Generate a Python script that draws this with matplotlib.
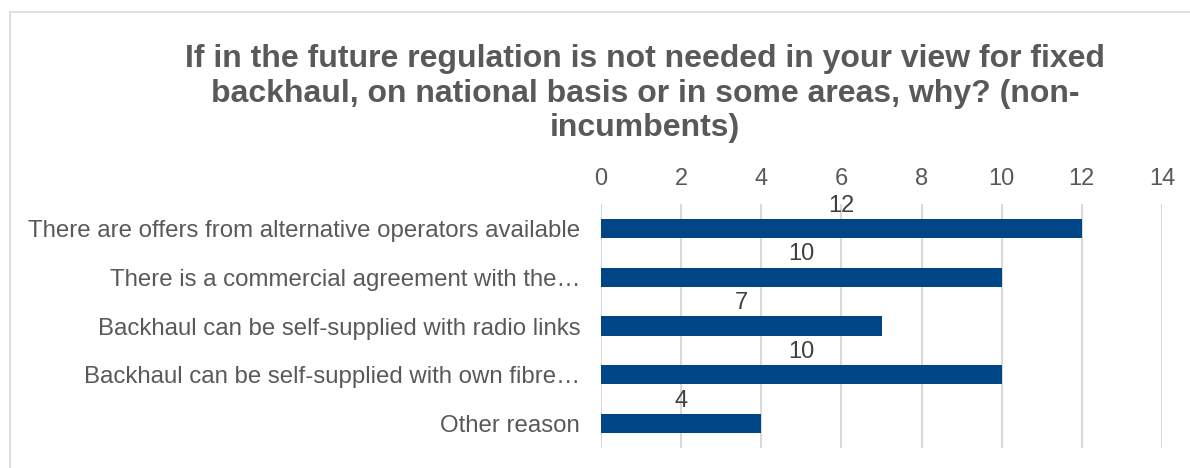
import matplotlib.pyplot as plt
from matplotlib.patches import Rectangle

reasons = [
    "There are offers from alternative operators available",
    "There is a commercial agreement with the\u2026",
    "Backhaul can be self-supplied with radio links",
    "Backhaul can be self-supplied with own fibre\u2026",
    "Other reason",
]
counts = [12, 10, 7, 10, 4]
xticks = [0, 2, 4, 6, 8, 10, 12, 14]

title = ("If in the future regulation is not needed in your view for fixed\n"
         "backhaul, on national basis or in some areas, why? (non-\n"
         "incumbents)")

plt.rcParams['font.family'] = ['Liberation Sans', 'DejaVu Sans']

W, H = 1190, 468
fig = plt.figure(figsize=(W / 100, H / 100), dpi=100)

# outer chart frame (only left/top edges fall inside the image)
top = 1 - 12 / H
fig.patches.append(Rectangle((10 / W, -1), 2, top + 1, transform=fig.transFigure,
                             fill=False, edgecolor='#d9d9d9', linewidth=1.2))

ax = fig.add_axes([601 / W, 1 - 448 / H, (1162 - 601) / W, (448 - 204) / H])

y = list(range(len(reasons)))
ax.barh(y, counts, height=0.39, color='#004586', zorder=3)
ax.set_ylim(len(reasons) - 0.5, -0.5)
ax.set_xlim(0, 14)

for yi, v in zip(y, counts):
    ax.text(v / 2, yi - 0.24, str(v), ha='center', va='bottom',
            fontsize=17, color='#404040', zorder=4)

ax.set_xticks(xticks)
ax.xaxis.tick_top()
ax.tick_params(axis='x', length=0, pad=10, labelsize=17, labelcolor='#595959')
ax.set_yticks(y)
ax.set_yticklabels(reasons)
ax.tick_params(axis='y', length=0, pad=15, labelsize=17.25, labelcolor='#595959')

ax.grid(axis='x', color='#d9d9d9', linewidth=1.5, zorder=0)
for s in ax.spines.values():
    s.set_visible(False)

fig.text(645 / W, 1 - 44 / H, title, ha='center', va='top', fontsize=23,
         fontweight='bold', color='#595959', linespacing=1.2)

fig.savefig('out.png', dpi=100, facecolor='white')
